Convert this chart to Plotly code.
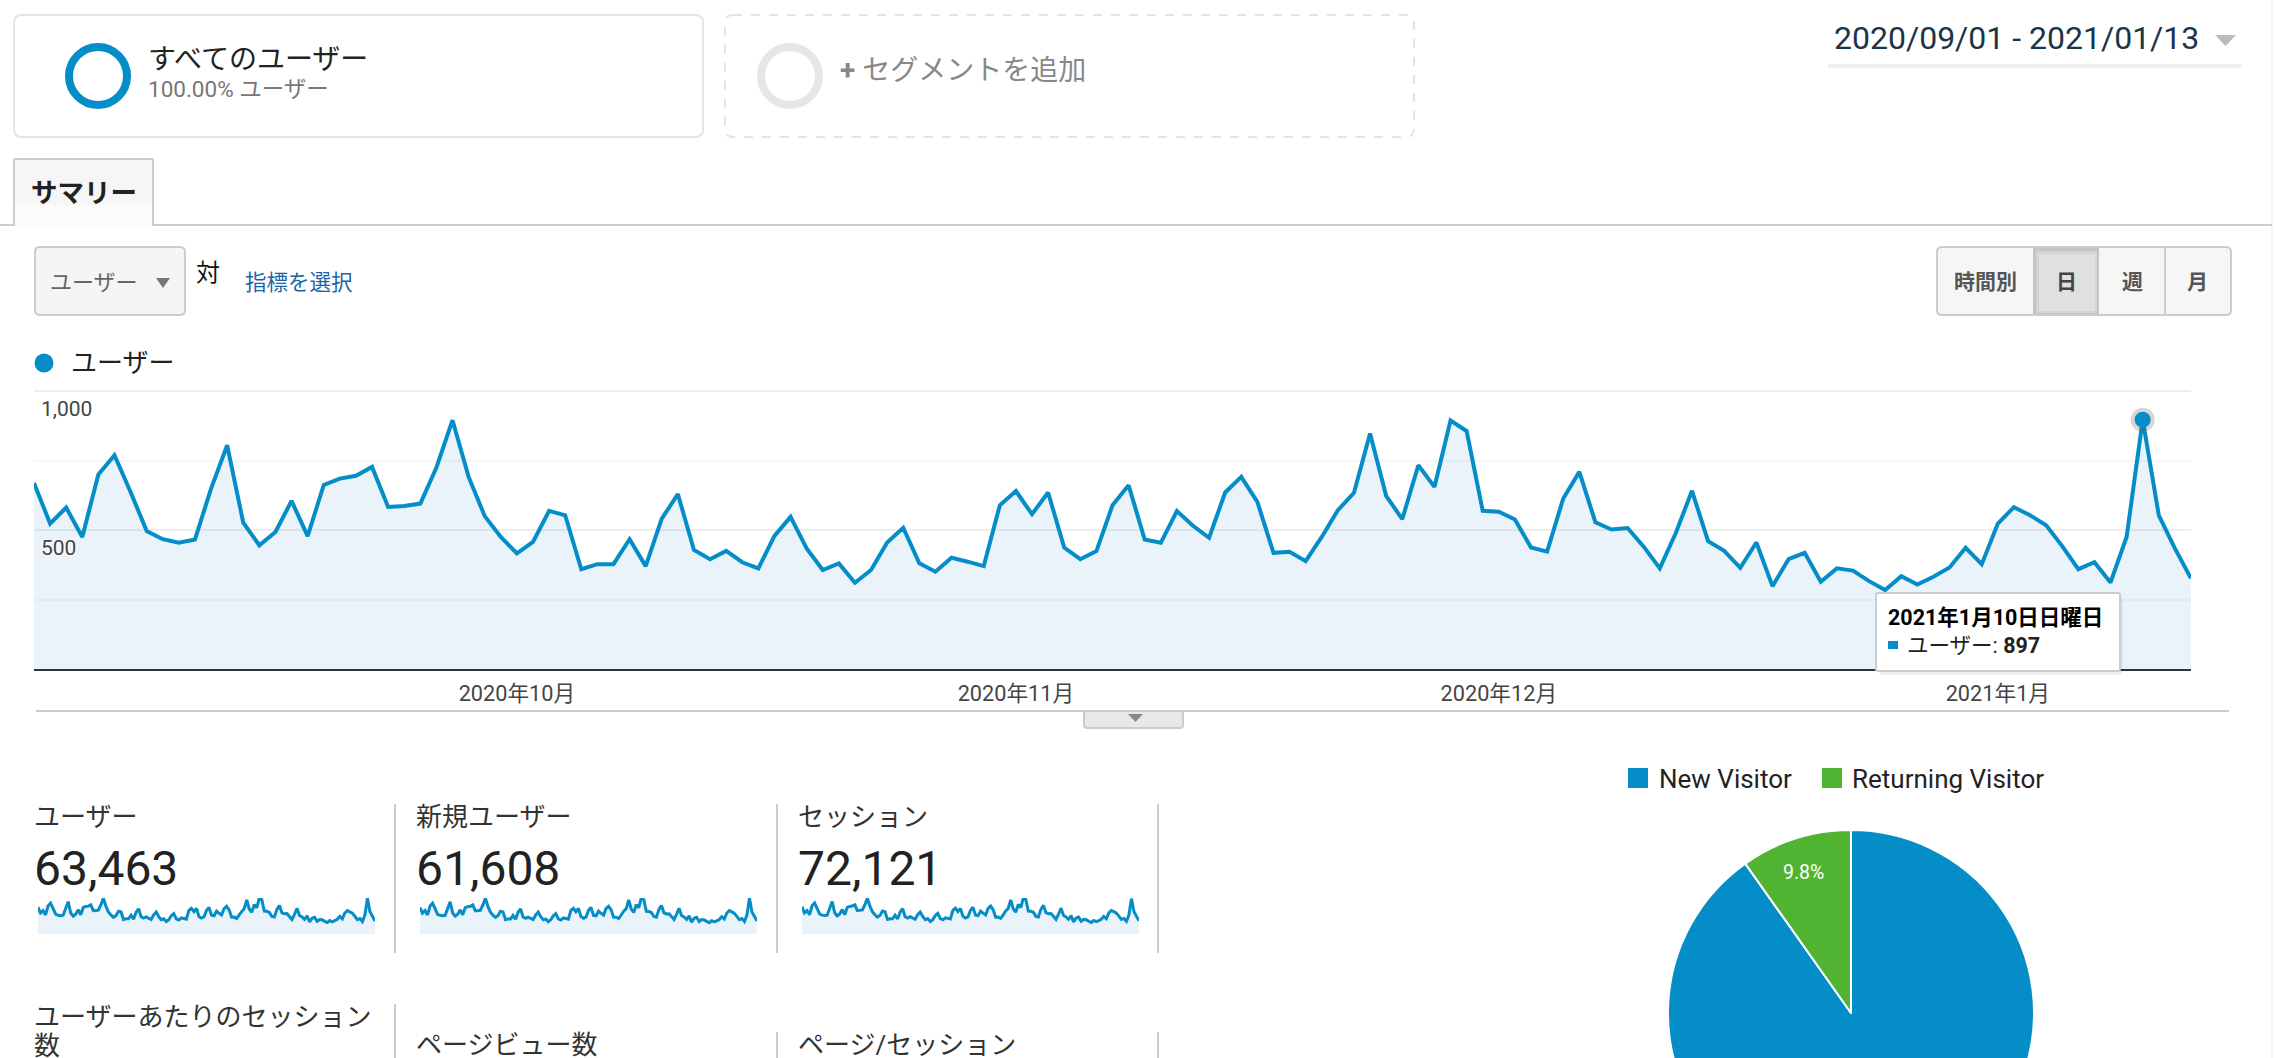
import pandas as pd
import plotly.graph_objects as go

W = 2274
H = 1200  # taller than the window, the pie runs off the bottom of the page

users = [669,523,581,475,700,769,637,496,467,454,466,649,805,526,445,493,605,478,662,685,695,727,583,586,595,725,895,691,550,475,
         416,457,569,553,359,377,377,467,370,541,629,428,395,425,384,362,479,547,434,356,380,310,356,455,508,380,350,400,386,370,589,
         640,557,635,437,395,424,589,661,466,454,568,515,472,635,691,601,418,422,388,475,571,634,847,623,539,733,655,894,856,
         569,566,538,437,422,613,709,528,502,507,440,362,490,641,460,425,364,455,298,395,418,314,362,354,316,284,334,304,332,365,436,
         377,523,582,553,517,442,359,384,311,475,897,553,434,326]
new_users = [640,505,570,462,678,745,612,478,452,440,452,628,780,508,430,478,585,465,640,662,672,706,565,566,575,702,868,668,530,458,
             404,442,552,535,346,365,366,452,358,525,610,412,382,410,372,350,462,530,420,344,366,298,344,440,492,368,338,388,374,358,572,
             622,540,618,424,382,410,572,642,452,440,552,500,458,618,672,584,405,408,375,460,555,615,825,605,522,712,636,872,832,
             552,548,520,424,408,594,690,512,486,490,426,350,474,622,446,412,352,440,288,382,404,304,350,342,306,274,322,294,320,352,422,
             364,508,565,536,500,428,348,372,300,460,868,535,420,316]
sessions = [772,598,665,545,800,880,728,570,535,522,535,742,920,602,510,565,692,548,756,782,792,828,668,672,682,828,1015,790,630,545,
            478,525,652,632,412,432,432,535,425,620,718,490,452,488,440,415,548,625,498,408,436,356,408,522,582,436,402,458,442,425,672,
            730,638,726,500,452,485,672,755,534,520,650,590,540,726,790,688,478,484,445,544,654,724,968,712,618,838,750,1020,978,
            650,648,616,500,484,700,810,604,574,580,504,415,560,732,526,486,418,520,342,452,478,360,414,405,362,326,382,348,380,418,498,
            432,598,666,632,592,506,412,440,356,544,1002,632,498,372]
month_ticks = ['2020-10-01', '2020-11-01', '2020-12-01', '2021-01-01']
month_labels = ['2020年10月', '2020年11月', '2020年12月', '2021年1月']
y_ticks = [0, 500, 1000]
y_labels = ['', '500', '1,000']
visitor_types = ['New Visitor', 'Returning Visitor']
visitor_share = [90.2, 9.8]

BLUE = '#058dc7'
GREEN = '#50b432'
FILL = 'rgba(33,130,205,0.095)'
FONT = 'Roboto, Noto Sans CJK JP, sans-serif'

dates = pd.date_range('2020-09-01', periods=len(users))


def px(x):
    return x / W


def py(y):
    return 1 - y / H


shapes = []
notes = []


def box(x0, y0, x1, y1, fill='rgba(0,0,0,0)', line='rgba(0,0,0,0)', width=2, r=0, dash='solid'):
    # rounded rectangle in page pixels
    if r == 0:
        shapes.append(dict(type='rect', xref='paper', yref='paper', x0=px(x0), x1=px(x1), y0=py(y0), y1=py(y1),
                           fillcolor=fill, line=dict(color=line, width=width, dash=dash)))
        return
    p = 'M %f %f L %f %f Q %f %f %f %f L %f %f Q %f %f %f %f L %f %f Q %f %f %f %f L %f %f Q %f %f %f %f Z' % (
        px(x0 + r), py(y0), px(x1 - r), py(y0), px(x1), py(y0), px(x1), py(y0 + r),
        px(x1), py(y1 - r), px(x1), py(y1), px(x1 - r), py(y1),
        px(x0 + r), py(y1), px(x0), py(y1), px(x0), py(y1 - r),
        px(x0), py(y0 + r), px(x0), py(y0), px(x0 + r), py(y0))
    shapes.append(dict(type='path', xref='paper', yref='paper', path=p, fillcolor=fill,
                       line=dict(color=line, width=width, dash=dash)))


def ring(cx, cy, r, color, width, fill='rgba(0,0,0,0)'):
    shapes.append(dict(type='circle', xref='paper', yref='paper', x0=px(cx - r), x1=px(cx + r), y0=py(cy - r), y1=py(cy + r),
                       fillcolor=fill, line=dict(color=color, width=width)))


def hline(x0, x1, y, color='#cccccc', width=2):
    shapes.append(dict(type='line', xref='paper', yref='paper', x0=px(x0), x1=px(x1), y0=py(y), y1=py(y),
                       line=dict(color=color, width=width)))


def vline(x, y0, y1, color='#cccccc', width=2):
    shapes.append(dict(type='line', xref='paper', yref='paper', x0=px(x), x1=px(x), y0=py(y0), y1=py(y1),
                       line=dict(color=color, width=width)))


def tri(x0, x1, y0, y1, color):
    # small pointing-down triangle for the dropdowns
    p = 'M %f %f L %f %f L %f %f Z' % (px(x0), py(y0), px(x1), py(y0), px((x0 + x1) / 2), py(y1))
    shapes.append(dict(type='path', xref='paper', yref='paper', path=p, fillcolor=color, line=dict(width=0)))


def text(x, y, s, size=21, color='#222222', anchor='left', font=FONT):
    notes.append(dict(xref='paper', yref='paper', x=px(x), y=py(y), text=s, showarrow=False, xanchor=anchor, yanchor='middle',
                      font=dict(family=font, size=size, color=color), borderpad=0, borderwidth=0))


# segment boxes
box(14, 15, 703, 137, fill='white', line='#e4e4e4', r=8)
ring(98, 76, 29, BLUE, 8)
text(148, 59, 'すべてのユーザー', 28, '#222222')
text(148, 89, '100.00% ユーザー', 22.5, '#777777')
box(725, 15, 1414, 137, fill='white', line='#e4e4e4', r=8, dash='dash')
ring(790, 76, 29, '#e6e6e6', 8)
text(840, 70, '<b>+</b> セグメントを追加', 28, '#888888')

# date picker
text(1834, 38, '2020/09/01 - 2021/01/13', 32, '#1c3448')
tri(2215, 2236, 35, 46, '#bbbbbb')
hline(1828, 2242, 66, '#f0f0f0', 4)
vline(2272, 0, 1058, '#f2f2f2', 2)

# tab
hline(0, 14, 225)
hline(153, 2272, 225)
box(14, 159, 153, 205, fill='#f6f6f6')
box(14, 205, 153, 226, fill='#fbfbfb')
for seg in [(14, 226, 14, 159), (14, 159, 153, 159), (153, 159, 153, 226)]:
    shapes.append(dict(type='line', xref='paper', yref='paper', x0=px(seg[0]), y0=py(seg[1]), x1=px(seg[2]), y1=py(seg[3]),
                       line=dict(color='#cccccc', width=2)))
text(84, 192, '<b>サマリー</b>', 26.5, '#222222', 'center')

# metric picker
box(35, 247, 185, 315, fill='#f5f5f5', line='#cccccc', r=5)
text(50, 282, 'ユーザー', 22, '#666666')
tri(156, 170, 278, 288, '#777777')
text(196, 273, '対', 24, '#111111')
text(245, 282, '指標を選択', 21.5, '#1c64a8')

# hourly/day/week/month buttons
box(1937, 247, 2231, 315, fill='#f6f6f6', line='#cccccc', r=5)
box(2033, 248, 2099, 314, fill='#c4c4c4')
box(2036, 251, 2097, 313, fill='#d4d4d4')
box(2039, 254, 2095, 311, fill='#e0e0e0')
vline(2165, 248, 314)
text(1985, 282, '<b>時間別</b>', 21, '#555555', 'center')
text(2066, 282, '<b>日</b>', 21, '#444444', 'center')
text(2132, 282, '<b>週</b>', 21, '#555555', 'center')
text(2197, 282, '<b>月</b>', 21, '#555555', 'center')

# main chart legend
ring(44, 363, 9.5, BLUE, 0, fill=BLUE)
text(71, 363, 'ユーザー', 26, '#222222')

# line under the chart and the small handle
hline(36, 2229, 711)
box(1084, 711, 1183, 728, fill='#e8e8e8', line='#cccccc', r=3)
tri(1128, 1143, 714, 722, '#888888')

# tooltip
box(1879, 597, 2123, 675, fill='rgba(0,0,0,0.06)', r=3)
box(1876, 593, 2120, 671, fill='white', line='#cccccc', r=2)
text(1888, 617, '<b>2021年1月10日日曜日</b>', 21.5, '#000000')
box(1888, 641, 1898, 649, fill=BLUE)
text(1907, 645, 'ユーザー: <b>897</b>', 21.5, '#222222')

# metric cells
text(34, 817, 'ユーザー', 26, '#333333')
text(416, 817, '新規ユーザー', 26, '#333333')
text(798, 817, 'セッション', 26, '#333333')
text(34, 868, '63,463', 48, '#222222')
text(416, 868, '61,608', 48, '#222222')
text(798, 868, '72,121', 48, '#222222')
text(34, 1017, 'ユーザーあたりのセッション', 26, '#333333')
text(34, 1046, '数', 26, '#333333')
text(416, 1045, 'ページビュー数', 26, '#333333')
text(798, 1045, 'ページ/セッション', 26, '#333333')
for x in [395, 777, 1158]:
    vline(x, 804, 953)
vline(395, 1004, 1060)
vline(777, 1032, 1060)
vline(1158, 1032, 1060)

# pie legend and slice label
box(1628, 768, 1648, 788, fill=BLUE)
text(1659, 779, visitor_types[0], 26, '#222222')
box(1822, 768, 1842, 788, fill=GREEN)
text(1852, 779, visitor_types[1], 26, '#222222')
text(1803.5, 872, '%.1f%%' % visitor_share[1], 19.5, 'white', 'center')

fig = go.Figure()

fig.add_trace(go.Scatter(x=dates, y=users, mode='lines', fill='tozeroy', fillcolor=FILL,
                         line=dict(color=BLUE, width=4), xaxis='x', yaxis='y', hoverinfo='x+y'))
# highlighted day: soft halo and dot
peak = users.index(897)
fig.add_trace(go.Scatter(x=[dates[peak]], y=[users[peak]], mode='markers', xaxis='x', yaxis='y', cliponaxis=False,
                         marker=dict(color='rgba(90,90,90,0.25)', size=24, line=dict(width=0))))
fig.add_trace(go.Scatter(x=[dates[peak]], y=[users[peak]], mode='markers', xaxis='x', yaxis='y', cliponaxis=False,
                         marker=dict(color=BLUE, size=16, line=dict(width=0))))

spark_x = [(38, 375), (420, 757), (802, 1139)]
for i, vals in enumerate([users, new_users, sessions]):
    n = str(i + 2)
    fig.add_trace(go.Scatter(x=dates, y=vals, mode='lines', fill='tozeroy', fillcolor=FILL,
                             line=dict(color=BLUE, width=3), xaxis='x' + n, yaxis='y' + n))
    fig.update_layout({
        'xaxis' + n: dict(domain=[px(spark_x[i][0]), px(spark_x[i][1])], range=[dates[0], dates[-1]], visible=False),
        'yaxis' + n: dict(domain=[py(934), py(898)], range=[0, max(vals)], visible=False, anchor='x' + n),
    })

fig.add_trace(go.Pie(labels=visitor_types, values=visitor_share, sort=False, direction='clockwise', rotation=0,
                     textinfo='none', marker=dict(colors=[BLUE, GREEN], line=dict(color='white', width=2)),
                     domain=dict(x=[px(1668), px(2034)], y=[py(1196), py(830)])))

fig.update_layout(
    width=W,
    height=H,
    margin=dict(l=0, r=0, t=0, b=0),
    paper_bgcolor='white',
    plot_bgcolor='white',
    showlegend=False,
    font=dict(family=FONT),
    shapes=shapes,
    annotations=notes,
    xaxis=dict(domain=[px(34), px(2191)], range=[dates[0], dates[-1]], tickvals=month_ticks, ticktext=month_labels,
               tickfont=dict(size=21.7, color='#444444', family=FONT), showgrid=False, showline=True, linecolor='#333333',
               linewidth=2, ticks='', ticklabelstandoff=4),
    # range runs a bit past 1,000 so the top gridline and its label are kept
    yaxis=dict(domain=[py(669), py(387)], range=[0, 1014.4], tickvals=y_ticks, ticktext=y_labels, ticks='',
               ticklabelposition='inside', ticklabelshift=18, ticklabelstandoff=4,
               tickfont=dict(size=21, color='#444444', family=FONT, shadow='0 0 3px white, 0 0 3px white'),
               gridcolor='#eeeeee', gridwidth=2, zeroline=False,
               minor=dict(tickvals=[250, 750], showgrid=True, gridcolor='#f7f7f7', gridwidth=2, ticks='')),
)

fig.write_html('out.html', config=dict(displayModeBar=False),
               post_script="document.documentElement.style.overflow='hidden';document.body.style.margin='0';document.body.style.overflow='hidden';")
